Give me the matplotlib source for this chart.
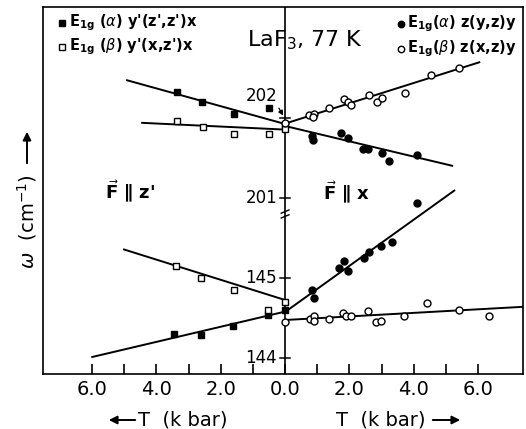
import matplotlib
matplotlib.use("Agg")
import matplotlib.pyplot as plt
from matplotlib.lines import Line2D

W, H = 526, 429
OFFSET = 55.0  # upper (202 region) shifted down onto the lower scale

# ---------------- data (x in kbar, negative = left panel "F || z'") ----------------
# Upper branch (~202 cm^-1)
a_left_up_x = [-3.35, -2.58, -1.58, -0.50, 0.0]
a_left_up_w = [202.325, 202.20, 202.05, 202.125, 201.91]
b_left_up_x = [-3.35, -2.55, -1.58, -0.50, 0.0]
b_left_up_w = [201.96, 201.89, 201.80, 201.80, 201.86]
a_right_up_x = [0.84, 0.87, 1.74, 1.96, 2.42, 2.58, 3.01, 3.23, 4.10]
a_right_up_w = [201.775, 201.725, 201.81, 201.75, 201.61, 201.61, 201.56, 201.46, 201.54]
b_right_up_x = [0.0, 0.75, 0.90, 0.87, 1.37, 1.83, 1.96, 2.05, 2.61, 2.86, 3.01, 3.73, 4.53, 5.40]
b_right_up_w = [201.94, 202.04, 202.05, 202.01, 202.125, 202.24, 202.20, 202.16, 202.29, 202.20,
                202.25, 202.31, 202.54, 202.625]

# Lower branch (~145 cm^-1)
a_left_lo_x = [-3.45, -2.61, -1.61, -0.53, 0.0]
a_left_lo_w = [144.30, 144.29, 144.40, 144.54, 144.60]
b_left_lo_x = [-3.39, -2.61, -1.58, -0.53, 0.0]
b_left_lo_w = [145.15, 145.00, 144.85, 144.60, 144.70]
a_right_lo_x = [0.84, 0.90, 1.68, 1.83, 1.96, 2.45, 2.61, 2.98, 3.32, 4.10]
a_right_lo_w = [144.85, 144.75, 145.125, 145.21, 145.09, 145.25, 145.325, 145.40, 145.45, 145.94]
b_right_lo_x = [0.0, 0.78, 0.90, 0.90, 1.37, 1.80, 1.89, 2.05, 2.58, 2.83, 2.98, 3.70, 4.41, 5.40, 6.34]
b_right_lo_w = [144.45, 144.49, 144.525, 144.46, 144.49, 144.56, 144.525, 144.525, 144.59, 144.45,
                144.46, 144.525, 144.69, 144.60, 144.525]

# fitted lines (end points)
fit_a_left_up = ([-4.94, 0.0], [202.475, 201.925])
fit_b_left_up = ([-4.47, 0.0], [201.94, 201.855])
fit_a_right_up = ([0.0, 5.22], [201.90, 201.40])
fit_b_right_up = ([0.0, 6.06], [201.93, 202.70])
fit_a_left_lo = ([-6.02, 0.0], [144.01, 144.58])
fit_b_left_lo = ([-5.03, 0.0], [145.36, 144.725])
fit_a_right_lo = ([0.0, 5.28], [144.575, 146.10])
fit_b_right_lo = ([0.0, 7.40], [144.475, 144.64])

xtick_pos = [-6, -5, -4, -3, -2, -1, 0, 1, 2, 3, 4, 5, 6]
xtick_lab = ["6.0", "", "4.0", "", "2.0", "", "0.0", "", "2.0", "", "4.0", "", "6.0"]
ytick_vals = [202, 201, 145, 144]


def ty(w):
    w = list(w) if hasattr(w, "__iter__") else [w]
    out = [v - OFFSET if v > 170 else v for v in w]
    return out


fig = plt.figure(figsize=(W / 100, H / 100), dpi=100)
ax = fig.add_axes([43 / W, 1 - 374 / H, (523 - 43) / W, (374 - 7) / H])
ax.set_xlim(-7.52, 7.39)
ax.set_ylim(143.8, 148.3875)
for s in ax.spines.values():
    s.set_linewidth(1.2)

ax.axvline(0, color="black", lw=1.2, zorder=1)

# fitted lines
for fx, fw in [fit_a_left_up, fit_b_left_up, fit_a_right_up, fit_b_right_up,
               fit_a_left_lo, fit_b_left_lo, fit_a_right_lo, fit_b_right_lo]:
    ax.plot(fx, ty(fw), color="black", lw=1.4, zorder=2, solid_capstyle="butt")

sq = dict(marker="s", ms=4.8, ls="none", zorder=3, mew=1.0)
ci = dict(marker="o", ms=5.0, ls="none", zorder=3, mew=1.0)
ax.plot(a_left_up_x, ty(a_left_up_w), mfc="black", mec="black", **sq)
ax.plot(a_left_lo_x, ty(a_left_lo_w), mfc="black", mec="black", **sq)
ax.plot(b_left_up_x, ty(b_left_up_w), mfc="white", mec="black", **sq)
ax.plot(b_left_lo_x, ty(b_left_lo_w), mfc="white", mec="black", **sq)
ax.plot(a_right_up_x, ty(a_right_up_w), mfc="black", mec="black", **ci)
ax.plot(a_right_lo_x, ty(a_right_lo_w), mfc="black", mec="black", **ci)
ax.plot(b_right_up_x, ty(b_right_up_w), mfc="white", mec="black", **ci)
ax.plot(b_right_lo_x, ty(b_right_lo_w), mfc="white", mec="black", **ci)

# bottom ticks
ax.set_xticks(xtick_pos)
ax.set_xticklabels(xtick_lab)
ax.tick_params(axis="x", direction="in", length=7, width=1.2, labelsize=14, pad=4)
ax.set_yticks([])

# ticks and labels on the central axis
for v in ytick_vals:
    yy = ty(v)[0]
    ax.plot([-0.16, 0.16], [yy, yy], color="black", lw=1.1, zorder=2)
    if v == 202:
        ax.annotate("202", xy=(-0.06, yy + 0.03), xytext=(-0.72, yy + 0.27),
                    ha="center", va="center", fontsize=12,
                    arrowprops=dict(arrowstyle="-|>", lw=0.9, color="black",
                                    mutation_scale=7, relpos=(0.97, 0.05),
                                    shrinkA=0, shrinkB=0))
    else:
        ax.text(-0.25, yy, str(v), ha="right", va="center", fontsize=12)

# axis break mark
for yb in (145.83, 145.77):
    ax.plot([-0.12, 0.12], [yb - 0.02, yb + 0.02], color="black", lw=1.0, zorder=2)


def ft(px, py, s, **kw):
    fig.text(px / W, 1 - py / H, s, **kw)


def fmark(px, py, **kw):
    fig.add_artist(Line2D([px / W], [1 - py / H], **kw))


LFS = 10.5
# legends
fmark(62, 23, marker="s", ms=4.4, mfc="black", mec="black", ls="none")
ft(69, 23, r"E$_{\mathbf{1g}}$ ($\alpha$) y'(z',z')x", fontsize=LFS, fontweight="bold", va="center")
fmark(62, 47, marker="s", ms=4.4, mfc="white", mec="black", ls="none")
ft(69, 47, r"E$_{\mathbf{1g}}$ ($\beta$) y'(x,z')x", fontsize=LFS, fontweight="bold", va="center")
fmark(401, 24, marker="o", ms=4.6, mfc="black", mec="black", ls="none")
ft(407, 24, r"E$_{\mathbf{1g}}$($\alpha$) z(y,z)y", fontsize=LFS, fontweight="bold", va="center")
fmark(401, 49, marker="o", ms=4.6, mfc="white", mec="black", ls="none")
ft(407, 49, r"E$_{\mathbf{1g}}$($\beta$) z(x,z)y", fontsize=LFS, fontweight="bold", va="center")

ft(305, 40, r"LaF$_3$, 77 K", fontsize=16, ha="center", va="center")

ft(130, 192, r"$\vec{\mathbf{F}}$ ∥ z'", fontsize=13, fontweight="bold", ha="center", va="center")
ft(347, 193, r"$\vec{\mathbf{F}}$ ∥ x", fontsize=13, fontweight="bold", ha="center", va="center")

# y label with arrow
ft(27, 222, r"$\omega$  (cm$^{-1}$)", fontsize=14, rotation=90, ha="center", va="center")
fig.add_artist(matplotlib.patches.FancyArrowPatch((27 / W, 1 - 166 / H), (27 / W, 1 - 129 / H),
                                                  transform=fig.transFigure, arrowstyle="-|>",
                                                  mutation_scale=12, lw=1.4, color="black"))

# x labels with arrows
ft(183, 420, "T  (k bar)", fontsize=14, ha="center", va="center")
fig.add_artist(matplotlib.patches.FancyArrowPatch((138 / W, 1 - 420 / H), (106 / W, 1 - 420 / H),
                                                  transform=fig.transFigure, arrowstyle="-|>",
                                                  mutation_scale=12, lw=1.4, color="black"))
ft(381, 420, "T  (k bar)", fontsize=14, ha="center", va="center")
fig.add_artist(matplotlib.patches.FancyArrowPatch((430 / W, 1 - 420 / H), (463 / W, 1 - 420 / H),
                                                  transform=fig.transFigure, arrowstyle="-|>",
                                                  mutation_scale=12, lw=1.4, color="black"))

fig.savefig("out.png", dpi=100)
